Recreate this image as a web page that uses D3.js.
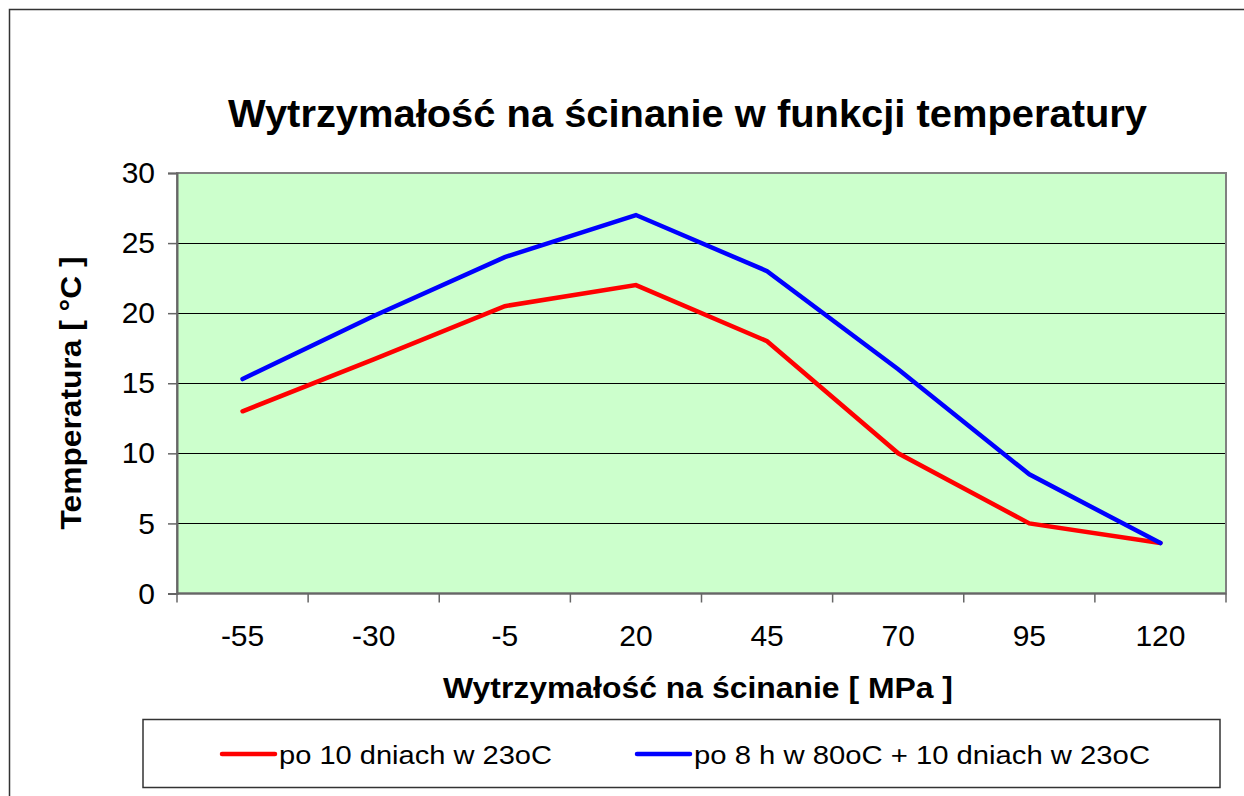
<!DOCTYPE html>
<html>
<head>
<meta charset="utf-8">
<script src="https://cdn.jsdelivr.net/npm/d3@7"></script>
<style>
  body { margin: 0; background: #fff; }
  text { font-family: "Liberation Sans", Arial, sans-serif; }
</style>
</head>
<body>
<div id="chart"></div>
<script>
// chart data
var categories = ["-55", "-30", "-5", "20", "45", "70", "95", "120"];
var redValues = [13, 16.7, 20.5, 22, 18, 10, 5, 3.6];
var blueValues = [15.3, 19.8, 24, 27, 23, 16, 8.5, 3.6];
var yTicks = [0, 5, 10, 15, 20, 25, 30];
var seriesNames = ["po 10 dniach w 23oC", "po 8 h w 80oC + 10 dniach w 23oC"];
var seriesColors = ["#ff0000", "#0000ff"];

var width = 1244, height = 796;
var plot = {left: 177, top: 173, right: 1226, bottom: 593.5};

var svg = d3.select("#chart").append("svg")
    .attr("width", width)
    .attr("height", height);

// outer chart border (runs off the right and bottom edge)
svg.append("rect")
    .attr("x", 9.5).attr("y", 9.5)
    .attr("width", 1260).attr("height", 820)
    .attr("fill", "#fff")
    .attr("stroke", "#333").attr("stroke-width", 1.5);

svg.append("text")
    .attr("x", 687.5).attr("y", 127)
    .attr("text-anchor", "middle")
    .attr("textLength", 919).attr("lengthAdjust", "spacingAndGlyphs")
    .style("font-size", "39px").style("font-weight", "bold")
    .text("Wytrzymałość na ścinanie w funkcji temperatury");

var x = d3.scaleBand()
    .domain(categories)
    .range([plot.left, plot.right]);

var y = d3.scaleLinear()
    .domain([0, 30])
    .range([plot.bottom, plot.top]);

// plot background
svg.append("rect")
    .attr("x", plot.left).attr("y", plot.top)
    .attr("width", plot.right - plot.left)
    .attr("height", plot.bottom - plot.top)
    .attr("fill", "#ccffcc");

// gridlines
svg.append("g")
  .selectAll("line")
  .data(yTicks.filter(d => d > 0 && d < 30))
  .enter().append("line")
    .attr("x1", plot.left).attr("x2", plot.right)
    .attr("y1", d => Math.round(y(d)) + 0.5)
    .attr("y2", d => Math.round(y(d)) + 0.5)
    .attr("stroke", "#000").attr("stroke-width", 1);

// plot border
svg.append("rect")
    .attr("x", plot.left).attr("y", plot.top)
    .attr("width", plot.right - plot.left)
    .attr("height", plot.bottom - plot.top)
    .attr("fill", "none")
    .attr("stroke", "#808080").attr("stroke-width", 2);

// y axis
var yAxis = d3.axisLeft(y).tickValues(yTicks).tickSize(9).tickPadding(13);
var gy = svg.append("g")
    .attr("transform", "translate(" + plot.left + ",0)")
    .call(yAxis);
gy.select(".domain").attr("stroke", "#666").attr("stroke-width", 2);
gy.selectAll(".tick line").attr("stroke", "#666").attr("stroke-width", 1.5);
gy.selectAll(".tick text")
    .style("font-size", "30px").style("font-family", "Liberation Sans, Arial, sans-serif")
    .attr("fill", "#000");

// x axis: ticks sit between the categories
var gx = svg.append("g")
    .attr("transform", "translate(0," + plot.bottom + ")");
gx.append("line")
    .attr("x1", plot.left).attr("x2", plot.right)
    .attr("stroke", "#666").attr("stroke-width", 2);
gx.selectAll("line.tick")
  .data(categories.concat(["end"]))
  .enter().append("line")
    .attr("class", "tick")
    .attr("x1", (d, i) => i < categories.length ? x(d) : plot.right)
    .attr("x2", (d, i) => i < categories.length ? x(d) : plot.right)
    .attr("y1", 0).attr("y2", 9)
    .attr("stroke", "#666").attr("stroke-width", 1.5);
gx.selectAll("text")
  .data(categories)
  .enter().append("text")
    .attr("x", d => x(d) + x.bandwidth() / 2)
    .attr("y", 52)
    .attr("text-anchor", "middle")
    .style("font-size", "30px")
    .text(d => d);

// axis titles
svg.append("text")
    .attr("x", 698).attr("y", 698)
    .attr("text-anchor", "middle")
    .attr("textLength", 510).attr("lengthAdjust", "spacingAndGlyphs")
    .style("font-size", "30px").style("font-weight", "bold")
    .text("Wytrzymałość na ścinanie [ MPa ]");

svg.append("text")
    .attr("transform", "translate(81,393) rotate(-90)")
    .attr("text-anchor", "middle")
    .attr("textLength", 273).attr("lengthAdjust", "spacingAndGlyphs")
    .style("font-size", "30px").style("font-weight", "bold")
    .text("Temperatura [ °C ]");

// lines
var line = d3.line()
    .x((d, i) => x(categories[i]) + x.bandwidth() / 2)
    .y(d => y(d));

[redValues, blueValues].forEach(function(vals, k) {
  svg.append("path")
      .datum(vals)
      .attr("d", line)
      .attr("fill", "none")
      .attr("stroke", seriesColors[k])
      .attr("stroke-width", 4.5)
      .attr("stroke-linejoin", "miter")
      .attr("stroke-linecap", "round");
});

// legend
svg.append("rect")
    .attr("x", 143).attr("y", 719.5)
    .attr("width", 1077).attr("height", 68)
    .attr("fill", "#fff")
    .attr("stroke", "#333").attr("stroke-width", 1.5);

var legendX = [222, 637];
var legendTextWidth = [273, 456];
seriesNames.forEach(function(name, k) {
  svg.append("line")
      .attr("x1", legendX[k]).attr("x2", legendX[k] + 53)
      .attr("y1", 754).attr("y2", 754)
      .attr("stroke", seriesColors[k])
      .attr("stroke-width", 4.5)
      .attr("stroke-linecap", "round");
  svg.append("text")
      .attr("x", legendX[k] + 57).attr("y", 764)
      .attr("textLength", legendTextWidth[k]).attr("lengthAdjust", "spacingAndGlyphs")
      .style("font-size", "26px")
      .text(name);
});
</script>
</body>
</html>
